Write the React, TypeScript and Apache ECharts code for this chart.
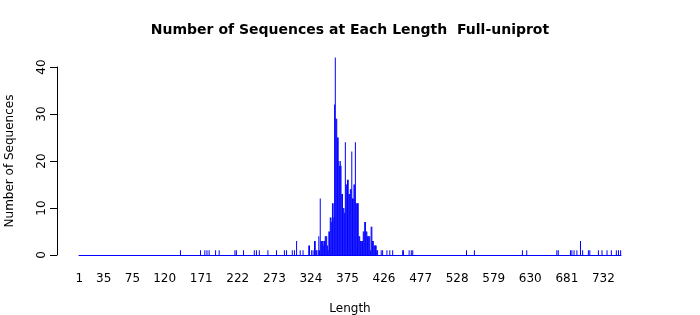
import React, { useEffect, useRef } from "react";
import * as echarts from "echarts";

const maxLength = 756;
const tickLabels = ["1", "35", "75", "120", "171", "222", "273", "324", "375", "426", "477", "528", "579", "630", "681", "732"];

// isolated lengths and their counts
const sparseLengths = [142, 170, 176, 179, 182, 191, 196, 218, 220, 230, 245, 248, 252, 264, 276, 287, 290, 298, 301, 304, 309, 313, 321, 322, 325, 327,
  422, 424, 430, 434, 438, 452, 453, 461, 464, 466, 541, 552, 619, 625, 667, 669, 686, 688, 691, 695, 700, 703, 711, 713, 725, 730, 737, 743, 750, 753, 756];
const sparseCounts = [1, 1, 1, 1, 1, 1, 1, 1, 1, 1, 1, 1, 1, 1, 1, 1, 1, 1, 1, 3, 1, 1, 2, 2, 1, 1,
  1, 1, 1, 1, 1, 1, 1, 1, 1, 1, 1, 1, 1, 1, 1, 1, 1, 1, 1, 1, 3, 1, 1, 1, 1, 1, 1, 1, 1, 1, 1];

// contiguous dense region starting at length 329
const peakStart = 329;
const peakCounts = [3, 3, 1, 1, 0, 1, 4, 1, 12, 3, 3, 3, 2, 3, 3, 4, 4, 4, 2, 1, 5, 5, 8, 8, 7, 11, 11, 8, 32, 42,
  29, 29, 25, 25, 20, 19, 20, 19, 13, 13, 10, 10, 9, 24, 15, 15, 16, 16, 13, 13, 14, 14, 22, 12, 12, 15, 15, 24, 11, 11,
  11, 11, 4, 4, 3, 3, 3, 3, 5, 5, 7, 7, 5, 5, 4, 4, 4, 4, 1, 6, 6, 3, 3, 2, 2, 2, 2, 1, 1, 0];

const FONT = "DejaVu Sans";

export default function App() {
  const ref = useRef<HTMLDivElement>(null);
  useEffect(() => {
    const categories = Array.from({ length: maxLength }, (_, i) => String(i + 1));
    const values: number[] = new Array(maxLength).fill(0);
    sparseLengths.forEach((l, i) => { values[l - 1] = sparseCounts[i]; });
    peakCounts.forEach((c, i) => { values[peakStart + i - 1] = c; });

    const chart = echarts.init(ref.current!, null, { renderer: "svg" });
    chart.setOption({
      animation: false,
      title: {
        text: "Number of Sequences at Each Length  Full-uniprot",
        left: "center",
        top: 17,
        textStyle: { fontFamily: FONT, fontWeight: "bold", fontSize: 14, color: "#000" },
      },
      grid: { left: 79, width: 542, top: 67, height: 188, outerBoundsMode: "none" },
      xAxis: {
        type: "category",
        data: categories,
        name: "Length",
        nameLocation: "middle",
        nameGap: 47,
        nameTextStyle: { fontFamily: FONT, fontSize: 12, color: "#000" },
        axisLine: { show: true, lineStyle: { color: "#0000FF", width: 1 } },
        axisTick: { show: false },
        axisLabel: {
          interval: (_i: number, v: string) => tickLabels.includes(v),
          margin: 17,
          fontFamily: FONT,
          fontSize: 12,
          color: "#000",
        },
        splitLine: { show: false },
      },
      yAxis: {
        type: "value",
        min: 0,
        max: 40,
        interval: 10,
        offset: 22,
        name: "Number of Sequences",
        nameLocation: "middle",
        nameGap: 42,
        nameTextStyle: { fontFamily: FONT, fontSize: 12, color: "#000" },
        axisLine: { show: true, lineStyle: { color: "#000", width: 1 } },
        axisTick: { show: true, length: 7, lineStyle: { color: "#000" } },
        axisLabel: { rotate: 90, margin: 10, fontFamily: FONT, fontSize: 12, color: "#000" },
        splitLine: { show: false },
      },
      series: [
        {
          type: "bar",
          data: values,
          barWidth: 1,
          clip: false,
          silent: true,
          itemStyle: { color: "#0000FF" },
        },
      ],
    });
    return () => chart.dispose();
  }, []);
  return <div ref={ref} style={{ position: "fixed", left: 0, top: 0, width: 700, height: 315 }} />;
}
